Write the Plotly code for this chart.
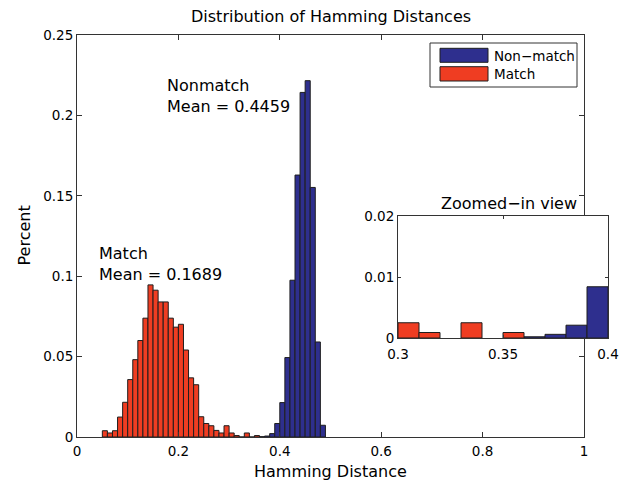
import plotly.graph_objects as go

# ---------------- data ----------------
match_bin_left = [0.05, 0.06, 0.07, 0.08, 0.09, 0.10, 0.11, 0.12, 0.13, 0.14,
                  0.15, 0.16, 0.17, 0.18, 0.19, 0.20, 0.21, 0.22, 0.23, 0.24,
                  0.25, 0.26, 0.27, 0.28, 0.29, 0.30, 0.31, 0.32, 0.33, 0.34, 0.35]
match_pct = [0.0039, 0.0025, 0.0039, 0.0124, 0.0216, 0.0357, 0.0481, 0.0600, 0.0739, 0.0946,
             0.0913, 0.0840, 0.0840, 0.0739, 0.0683, 0.0701, 0.0541, 0.0368, 0.0325, 0.0126,
             0.0084, 0.0070, 0.0041, 0.0025, 0.0070, 0.0025, 0.0009, 0.0, 0.0025, 0.0, 0.0009]

nonmatch_bin_left = [0.36, 0.37, 0.38, 0.39, 0.40, 0.41, 0.42, 0.43, 0.44, 0.45, 0.46, 0.47, 0.48]
nonmatch_pct = [0.0002, 0.0006, 0.0021, 0.0084, 0.0214, 0.0494, 0.0975, 0.1629, 0.2143, 0.2216,
                0.1552, 0.0591, 0.0073]

bin_width = 0.01

x_ticks = [0, 0.2, 0.4, 0.6, 0.8, 1]
x_tick_text = ["0", "0.2", "0.4", "0.6", "0.8", "1"]
y_ticks = [0, 0.05, 0.1, 0.15, 0.2, 0.25]
y_tick_text = ["0", "0.05", "0.1", "0.15", "0.2", "0.25"]

inset_x_ticks = [0.3, 0.35, 0.4]
inset_x_tick_text = ["0.3", "0.35", "0.4"]
inset_y_ticks = [0, 0.01, 0.02]
inset_y_tick_text = ["0", "0.01", "0.02"]
inset_x_range = [0.3, 0.4]
inset_y_range = [0, 0.02]

match_label = "Match<br>Mean = 0.1689"
nonmatch_label = "Nonmatch<br>Mean = 0.4459"
legend_names = ["Non\u2212match", "Match"]

# ---------------- style ----------------
BLUE = "#2E2F8E"
RED = "#EF3D22"
EDGE = "#1E1E1E"
AXIS = "#333333"
FONT = "DejaVu Sans"

W, H = 630, 482
ML, MR, MT, MB = 77, 22, 35, 45
PW, PH = W - ML - MR, H - MT - MB


def px(x):
    return (x - ML) / PW


def py(y):
    return (H - MB - y) / PH


fig = go.Figure()

# main histogram
fig.add_trace(go.Bar(x=nonmatch_bin_left, y=nonmatch_pct, width=bin_width, offset=0,
                     marker=dict(color=BLUE, line=dict(color=EDGE, width=1)),
                     xaxis="x", yaxis="y", showlegend=False))
fig.add_trace(go.Bar(x=match_bin_left, y=match_pct, width=bin_width, offset=0,
                     marker=dict(color=RED, line=dict(color=EDGE, width=1)),
                     xaxis="x", yaxis="y", showlegend=False))


def in_inset(lefts, vals):
    xs, ys = [], []
    for l, v in zip(lefts, vals):
        if inset_x_range[0] - 1e-9 <= l < inset_x_range[1] - 1e-9 and v > 0:
            xs.append(l)
            ys.append(v)
    return xs, ys


ix, iy = in_inset(nonmatch_bin_left, nonmatch_pct)
fig.add_trace(go.Bar(x=ix, y=iy, width=bin_width, offset=0,
                     marker=dict(color=BLUE, line=dict(color=EDGE, width=1)),
                     xaxis="x2", yaxis="y2", showlegend=False))
ix, iy = in_inset(match_bin_left, match_pct)
fig.add_trace(go.Bar(x=ix, y=iy, width=bin_width, offset=0,
                     marker=dict(color=RED, line=dict(color=EDGE, width=1)),
                     xaxis="x2", yaxis="y2", showlegend=False))

axis_common = dict(showline=True, linecolor=AXIS, linewidth=1, mirror="ticks",
                   ticks="inside", tickcolor=AXIS, tickwidth=1, showgrid=False,
                   zeroline=False, tickfont=dict(family=FONT, size=13.5, color="black"))

main_x_right = px(584)
fig.update_layout(
    width=W, height=H,
    margin=dict(l=ML, r=MR, t=MT, b=MB, pad=0),
    paper_bgcolor="white", plot_bgcolor="white",
    barmode="overlay", showlegend=False,
    font=dict(family=FONT, color="black"),
    xaxis=dict(domain=[0, main_x_right], range=[0, 1], tickvals=x_ticks, ticktext=x_tick_text,
               ticklen=5, anchor="y", ticklabelstandoff=2, **axis_common),
    yaxis=dict(domain=[0, 1], range=[0, 0.25], tickvals=y_ticks, ticktext=y_tick_text,
               ticklen=5, anchor="x", **axis_common),
    xaxis2=dict(domain=[px(398), 1], range=inset_x_range, tickvals=inset_x_ticks,
                ticktext=inset_x_tick_text, ticklen=3, anchor="y2", ticklabelstandoff=4,
                **axis_common),
    yaxis2=dict(domain=[py(338), py(216)], range=inset_y_range, tickvals=inset_y_ticks,
                ticktext=inset_y_tick_text, ticklen=3, anchor="x2", **axis_common),
)

ann = []
ann.append(dict(text="Distribution of Hamming Distances", x=px(330.5), y=py(16.5),
                xref="paper", yref="paper", xanchor="center", yanchor="middle",
                showarrow=False, font=dict(family=FONT, size=16)))
ann.append(dict(text="Hamming Distance", x=px(330.5), y=py(471), xref="paper", yref="paper",
                xanchor="center", yanchor="middle", showarrow=False,
                font=dict(family=FONT, size=16)))
ann.append(dict(text="Percent", x=px(23.5), y=py(236), xref="paper", yref="paper",
                xanchor="center", yanchor="middle", textangle=-90, showarrow=False,
                font=dict(family=FONT, size=16)))
ann.append(dict(text=match_label, x=px(97), y=py(263.5), xref="paper", yref="paper",
                xanchor="left", yanchor="middle", align="left", showarrow=False,
                font=dict(family=FONT, size=16)))
ann.append(dict(text=nonmatch_label, x=px(164.5), y=py(96), xref="paper", yref="paper",
                xanchor="left", yanchor="middle", align="left", showarrow=False,
                font=dict(family=FONT, size=16)))
ann.append(dict(text="Zoomed\u2212in view", x=px(508.5), y=py(203.5), xref="paper", yref="paper",
                xanchor="center", yanchor="middle", showarrow=False,
                font=dict(family=FONT, size=16)))

# legend (drawn manually to match the wide swatches)
shapes = []
shapes.append(dict(type="rect", xref="paper", yref="paper", x0=px(430), x1=px(577),
                   y0=py(87), y1=py(43), line=dict(color=AXIS, width=1), fillcolor="white",
                   layer="above"))
swatch_y = [(48.3, 62.3), (66.7, 81.0)]
text_y = [55.5, 74.0]
for name, color, (ya, yb), ty in zip(legend_names, [BLUE, RED], swatch_y, text_y):
    shapes.append(dict(type="rect", xref="paper", yref="paper", x0=px(440), x1=px(488),
                       y0=py(yb), y1=py(ya), line=dict(color=EDGE, width=1), fillcolor=color,
                       layer="above"))
    ann.append(dict(text=name, x=px(492), y=py(ty), xref="paper", yref="paper",
                    xanchor="left", yanchor="middle", showarrow=False,
                    font=dict(family=FONT, size=13.5)))

fig.update_layout(annotations=ann, shapes=shapes)

fig.write_html("out.html")
